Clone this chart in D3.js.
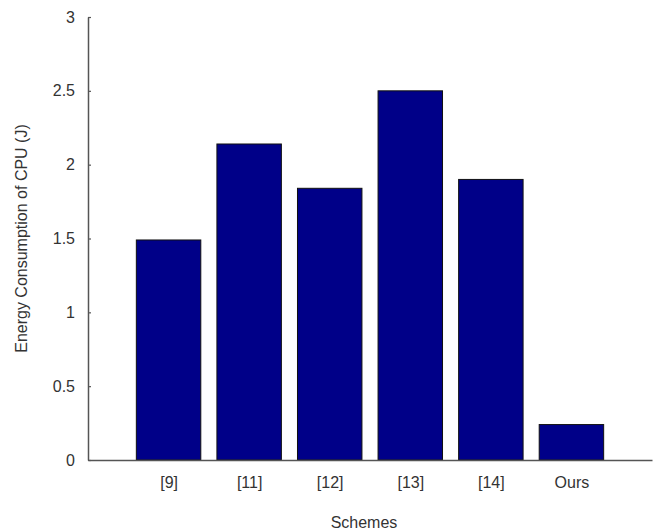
<!DOCTYPE html>
<html>
<head>
<meta charset="utf-8">
<script src="https://cdn.jsdelivr.net/npm/d3@7"></script>
<style>
  body { margin: 0; background: #fff; }
  text { font-family: "Liberation Sans", Arial, sans-serif; fill: #333; }
</style>
</head>
<body>
<div id="chart"></div>
<script>
// data
var schemes = ["[9]", "[11]", "[12]", "[13]", "[14]", "Ours"];
var energy = [1.49, 2.14, 1.84, 2.50, 1.90, 0.24];
var yTicks = [0, 0.5, 1, 1.5, 2, 2.5, 3];

var svgWidth = 653, svgHeight = 532;
var margin = { top: 17, bottom: 72, right: 1, left: 88 };
var height = svgHeight - margin.top - margin.bottom;
var width = svgWidth - margin.left - margin.right;

var svg = d3.select("#chart").append("svg")
    .attr("width", svgWidth)
    .attr("height", svgHeight);

var chartGroup = svg.append("g")
    .attr("transform", `translate(${margin.left}, ${margin.top})`);

// bars sit at 1..6 on a 0..7 axis
var xScale = d3.scaleLinear().domain([0, schemes.length + 1]).range([0, width]);
var yScale = d3.scaleLinear().domain([0, 3]).range([height, 0]);
var barW = xScale(0.8) - xScale(0);

chartGroup.selectAll("rect.bar")
    .data(energy)
    .enter()
    .append("rect")
    .attr("class", "bar")
    .attr("x", (d, i) => xScale(i + 1) - barW / 2)
    .attr("y", d => yScale(d))
    .attr("width", barW)
    .attr("height", d => height - yScale(d))
    .attr("fill", "#000088")
    .attr("stroke", "#111")
    .attr("stroke-width", 1);

// y axis
var yAxis = d3.axisLeft(yScale).tickValues(yTicks).tickSizeInner(-3).tickSizeOuter(0)
    .tickPadding(13).tickFormat(d3.format("~g"));
var gy = chartGroup.append("g").call(yAxis);
gy.select(".domain").attr("stroke", "#555").attr("stroke-width", 1.5);
gy.selectAll(".tick line").attr("stroke", "#555").attr("stroke-width", 1.2);
gy.selectAll(".tick text").attr("font-size", "16px").attr("fill", "#333")
    .attr("font-family", "Liberation Sans, Arial, sans-serif");

// x axis (no ticks)
var xAxis = d3.axisBottom(xScale).tickValues(d3.range(1, schemes.length + 1))
    .tickSize(0).tickPadding(17).tickFormat(d => schemes[d - 1]);
var gx = chartGroup.append("g")
    .attr("transform", `translate(0, ${height})`)
    .call(xAxis);
gx.select(".domain").attr("stroke", "#555").attr("stroke-width", 1.5);
gx.selectAll(".tick text").attr("font-size", "16px").attr("fill", "#333")
    .attr("font-family", "Liberation Sans, Arial, sans-serif");

// axis labels
svg.append("text")
    .attr("transform", `translate(27, ${margin.top + height / 2}) rotate(-90)`)
    .attr("text-anchor", "middle")
    .attr("font-size", "16px")
    .text("Energy Consumption of CPU (J)");

svg.append("text")
    .attr("x", 364)
    .attr("y", 528)
    .attr("text-anchor", "middle")
    .attr("font-size", "16px")
    .text("Schemes");
</script>
</body>
</html>
